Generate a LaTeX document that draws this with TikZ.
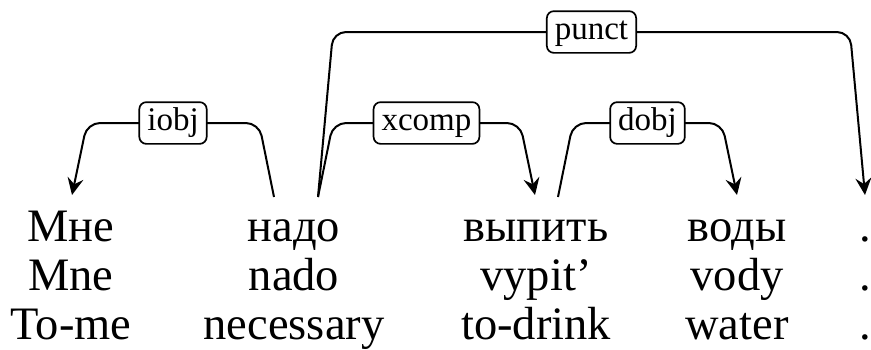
\documentclass[tikz,border=0pt]{standalone}
\usepackage{fontspec}
\setmainfont{Liberation Serif}
\usetikzlibrary{arrows.meta,calc}
\begin{document}
\begin{tikzpicture}[x=1pt,y=-1pt,
  word/.style={anchor=base,inner sep=0pt,font=\fontsize{46.5}{50}\selectfont},
  deplabel/.style={draw,line width=1.7pt,rounded corners=7pt,fill=white,
    font=\fontsize{33}{36}\selectfont,inner xsep=8pt,inner ysep=6pt,
    text height=22.5pt,text depth=7.2pt},
  depedge/.style={line width=2pt,rounded corners=13pt,
    -{Stealth[length=17pt,width=16pt,inset=6pt]}},
]
\useasboundingbox (0,0) rectangle (871,349);

% row 1
\node[word] (mne)   at (71,241)  {Мне};
\node[word] (nado)  at (294,241) {надо};
\node[word] (vypit) at (536,241) {выпить};
\node[word] (vody)  at (737,241) {воды};
\node[word] (dot)   at (865,241) {.};
% row 2
\node[word] (mne2)   at (71,290)  {Mne};
\node[word] (nado2)  at (294,290) {nado};
\node[word] (vypit2) at (536,290) {vypit’};
\node[word] (vody2)  at (737,290) {vody};
\node[word] (dot2)   at (865,290) {.};
% row 3
\node[word] (mne3)   at (71,339)  {To-me};
\node[word] (nado3)  at (294,339) {necessary};
\node[word] (vypit3) at (536,339) {to-drink};
\node[word] (vody3)  at (737,339) {water};
\node[word] (dot3)   at (865,339) {.};

% attachment points
\coordinate (mne-T)   at ($(mne.base)+(1,-46)$);
\coordinate (nado-L)  at ($(nado.base)+(-20,-44)$);
\coordinate (nado-R)  at ($(nado.base)+(24,-44)$);
\coordinate (vypit-T) at ($(vypit.base)+(-1,-46)$);
\coordinate (vypit-R) at ($(vypit.base)+(22,-44)$);
\coordinate (vody-T)  at ($(vody.base)+(0,-46)$);
\coordinate (dot-T)   at ($(dot.base)+(0,-46)$);

% edges
\draw[depedge] (nado-L) -- ++(-15,-74)
  -- node[deplabel,midway]{iobj} ($(mne-T)+(15,-72)$) -- (mne-T);
\draw[depedge] (nado-R) -- ++(15,-74)
  -- node[deplabel,midway]{xcomp} ($(vypit-T)+(-15,-72)$) -- (vypit-T);
\draw[depedge] (nado-R) -- ++(15,-165)
  -- node[deplabel,midway]{punct} ($(dot-T)+(-15,-163)$) -- (dot-T);
\draw[depedge] (vypit-R) -- ++(15,-74)
  -- node[deplabel,midway]{dobj} ($(vody-T)+(-15,-72)$) -- (vody-T);
\end{tikzpicture}
\end{document}
